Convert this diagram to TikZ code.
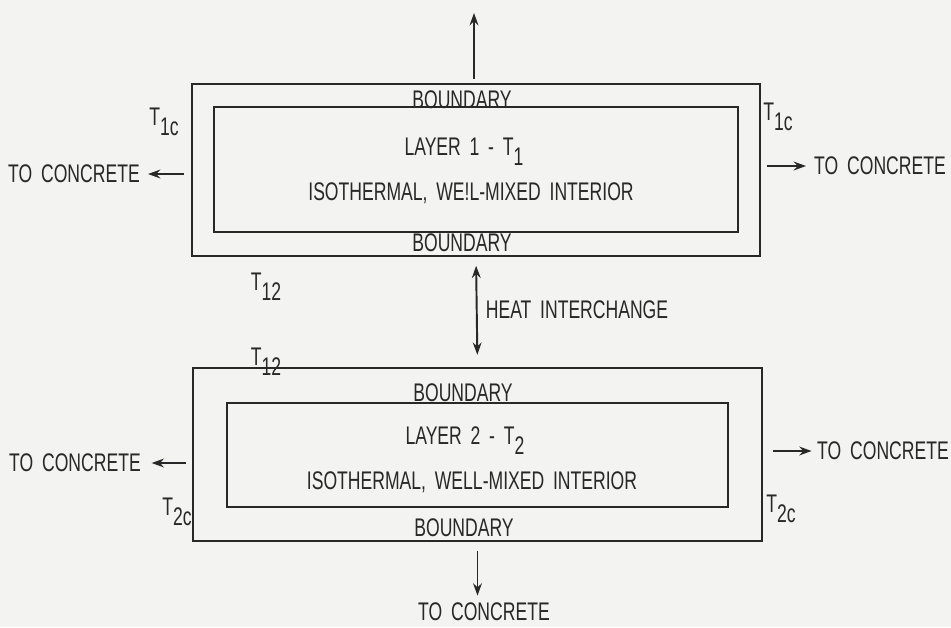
\documentclass[tikz,border=0pt]{standalone}
\usepackage{fontspec}
\setmainfont[FakeStretch=0.69,WordSpace=1.8]{Liberation Sans}
\usetikzlibrary{arrows.meta}
\definecolor{bg}{RGB}{243,243,241}
\definecolor{ink}{RGB}{40,40,40}
\newcommand\Tsb[1]{T\raisebox{-0.75ex}{#1}}
\begin{document}
\begin{tikzpicture}[x=0.02cm,y=-0.02cm,
  box/.style={draw=ink, line width=1.1pt, inner sep=0pt},
  lbl/.style={text=ink, font=\fontsize{14.5}{16}\selectfont, inner sep=0pt},
  arr/.style={draw=ink, line width=1.1pt, -{Stealth[length=7pt,width=5pt]}},
  darr/.style={draw=ink, line width=1.1pt, {Stealth[length=7pt,width=5pt]}-{Stealth[length=7pt,width=5pt]}}]
\fill[bg] (0,0) rectangle (951,627);
\useasboundingbox (0,0) rectangle (951,627);
% boxes
\node[box, minimum width=11.36cm, minimum height=3.44cm] (o1) at (476,170) {};
\node[box, minimum width=10.48cm, minimum height=2.5cm] (i1) at (476,169.5) {};
\node[box, minimum width=11.38cm, minimum height=3.46cm] (o2) at (477.5,454.5) {};
\node[box, minimum width=10.02cm, minimum height=2.08cm] (i2) at (477.5,455) {};
% texts layer 1
\node[lbl] (b1t) at (462,100) {BOUNDARY};
\node[lbl] (b1b) at (462,243) {BOUNDARY};
\node[lbl] (lay1) at (464,152) {LAYER 1 - \Tsb{1}};
\node[lbl] (iso1) at (471,193) {ISOTHERMAL, WE!L-MIXED INTERIOR};
% texts layer 2
\node[lbl] (b2t) at (463,393) {BOUNDARY};
\node[lbl] (b2b) at (464,528) {BOUNDARY};
\node[lbl] (lay2) at (465,441) {LAYER 2 - \Tsb{2}};
\node[lbl] (iso2) at (472,482) {ISOTHERMAL, WELL-MIXED INTERIOR};
% temperature labels
\node[lbl] (t1cl) at (164,122) {\Tsb{1c}};
\node[lbl] (t1cr) at (778,117) {\Tsb{1c}};
\node[lbl] (t12a) at (266,287) {\Tsb{12}};
\node[lbl] (t12b) at (266,362) {\Tsb{12}};
\node[lbl] (t2cl) at (177,512) {\Tsb{2c}};
\node[lbl] (t2cr) at (781,509) {\Tsb{2c}};
% outside labels
\node[lbl] (tcL1) at (74,174) {TO CONCRETE};
\node[lbl] (tcR1) at (880,166) {TO CONCRETE};
\node[lbl] (tcL2) at (75,463) {TO CONCRETE};
\node[lbl] (tcR2) at (883,451) {TO CONCRETE};
\node[lbl] (tcB) at (484,612) {TO CONCRETE};
\node[lbl] (heat) at (577,310) {HEAT INTERCHANGE};
\coordinate (topEnd) at (474,13);
% connectors
\draw[arr, shorten <=2.5pt] (topEnd |- o1.north) -- (topEnd);
\draw[darr, shorten <=5pt, shorten >=7pt] (o1.south) -- (o2.north);
\draw[arr, shorten <=5pt, shorten >=4pt] (o2.south) -- (o2.south |- tcB.north);
\draw[arr, shorten <=4pt, shorten >=4.5pt] (tcL1.east -| o1.west) -- (tcL1.east);
\draw[arr, shorten <=3.4pt, shorten >=4.5pt] (tcR1.west -| o1.east) -- (tcR1.west);
\draw[arr, shorten <=3.4pt, shorten >=6pt] (tcL2.east -| o2.west) -- (tcL2.east);
\draw[arr, shorten <=6pt, shorten >=3pt] (tcR2.west -| o2.east) -- (tcR2.west);
\end{tikzpicture}
\end{document}
